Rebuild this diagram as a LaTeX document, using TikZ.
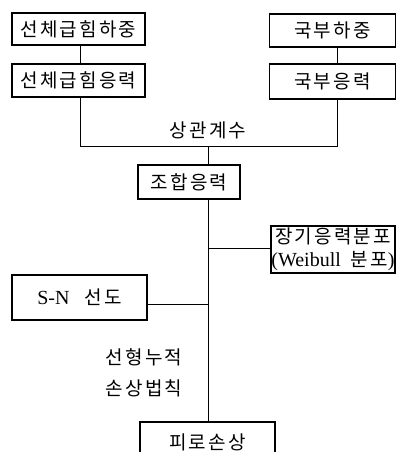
\documentclass[tikz,border=0pt]{standalone}
\usepackage{fontspec}
\setmainfont[LetterSpace=11]{Noto Sans CJK KR}
\newfontfamily\lat{Liberation Serif}
\begin{document}
\begin{tikzpicture}[x=1pt,y=-1pt,
  box/.style={draw,line width=1.5pt,inner sep=0pt,font=\fontsize{19}{20}\selectfont},
  conn/.style={line width=1pt},
  lbl/.style={font=\fontsize{19}{20}\selectfont,inner sep=0pt}]
\useasboundingbox (0,0) rectangle (397,452);
\clip (0,0) rectangle (397,452);
\node[box,minimum width=133pt,minimum height=32pt] (b1) at (78.5,29) {선체급힘하중};
\node[box,minimum width=133pt,minimum height=33pt] (b2) at (78.5,80.5) {선체급힘응력};
\node[box,minimum width=126pt,minimum height=33pt] (b3) at (332.5,30.5) {국부하중};
\node[box,minimum width=126pt,minimum height=35pt] (b4) at (332.5,81.5) {국부응력};
\node[box,minimum width=102pt,minimum height=34pt] (b5) at (189,182) {조합응력};
\node[box,minimum width=124pt,minimum height=47pt,align=center,font=\fontsize{19}{23}\selectfont] (b6) at (333,249.5) {장기응력분포\\{\lat\fontsize{20}{23}\selectfont (Weibull\ \ }분포{\lat\fontsize{20}{23}\selectfont )}};
\node[box,minimum width=135pt,minimum height=45pt] (b7) at (79.5,297.5) {{\lat\fontsize{20}{23}\selectfont S-N\ \ \ }선도};
\node[box,minimum width=135pt,minimum height=40pt] (b8) at (207.5,442) {피로손상};
\node[lbl] (l1) at (208,130) {상관계수};
\node[lbl] (l2) at (144,357) {선형누적};
\node[lbl] (l3) at (144,388) {손상법칙};
\coordinate (sp) at (208,146);
\coordinate (lx) at (80,146);
\coordinate (rx) at (337,146);
\draw[conn] (b1.south -| lx) -- (b2.north -| lx);
\draw[conn] (b3.south -| rx) -- (b4.north -| rx);
\draw[conn] (b2.south -| lx) -- (lx) -- (rx) -- (b4.south -| rx);
\draw[conn] (sp) -- (b5.north -| sp);
\draw[conn] (b5.south -| sp) -- (b8.north -| sp);
\draw[conn] (b6.west |- 0,248) coordinate (j1) -- (j1 -| sp);
\draw[conn] (b7.east |- 0,304) coordinate (j2) -- (j2 -| sp);
\end{tikzpicture}
\end{document}
